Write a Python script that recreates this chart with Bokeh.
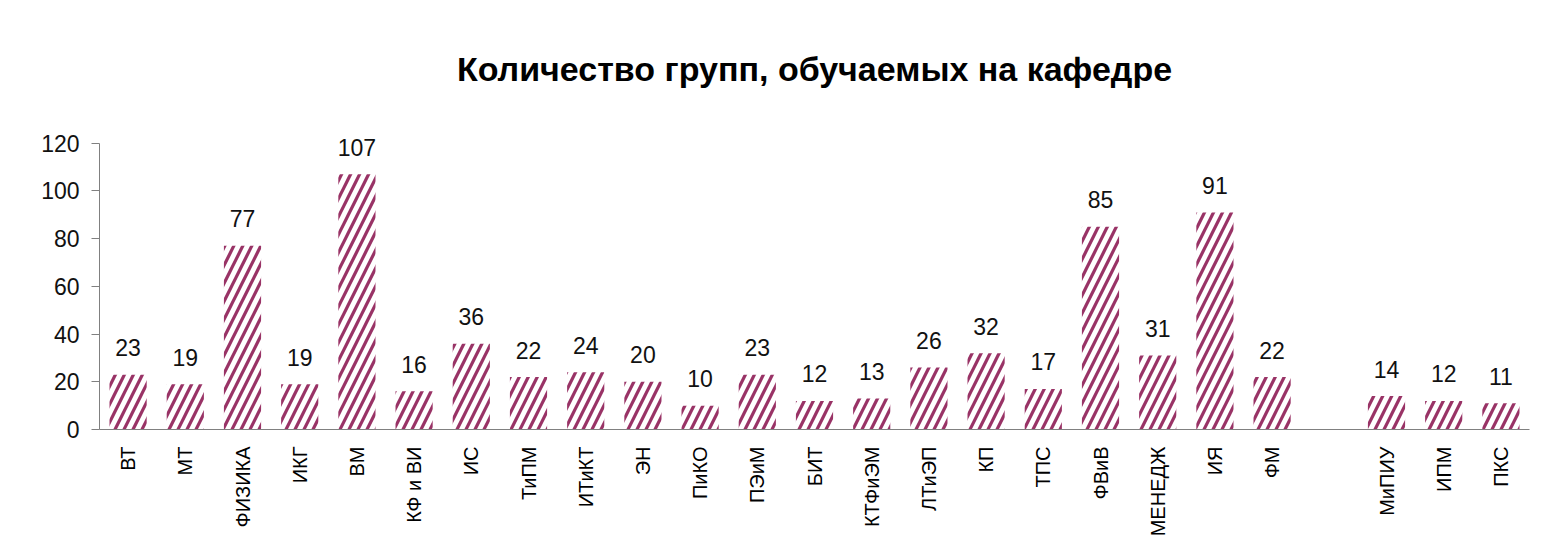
from bokeh.plotting import figure
from bokeh.models import FactorRange, ColumnDataSource, FixedTicker, Title, LabelSet
from bokeh.core.properties import value
from bokeh.embed import file_html
from bokeh.resources import INLINE
import math

categories = ["ВТ", "МТ", "ФИЗИКА", "ИКГ", "ВМ", "КФ и ВИ", "ИС", "ТиПМ", "ИТиКТ", "ЭН",
              "ПиКО", "ПЭиМ", "БИТ", "КТФиЭМ", "ЛТиЭП", "КП", "ТПС", "ФВиВ", "МЕНЕДЖ",
              "ИЯ", "ФМ", "МиПИУ", "ИПМ", "ПКС"]
values = [23, 19, 77, 19, 107, 16, 36, 22, 24, 20, 10, 23, 12, 13, 26, 32, 17, 85, 31,
          91, 22, 14, 12, 11]
gap_after = "ФМ"
y_ticks = [0, 20, 40, 60, 80, 100, 120]
title_text = "Количество групп, обучаемых на кафедре"

BAR_COLOR = "#993366"

i = categories.index(gap_after) + 1
factors = categories[:i] + [" "] + categories[i:]

src = ColumnDataSource(dict(x=categories, y=values, lab=[str(v) for v in values]))

p = figure(width=1536, height=539, x_range=FactorRange(*factors, range_padding=0),
           y_range=(0, 135), output_backend="svg", toolbar_location=None,
           min_border_left=99, min_border_right=7, min_border_top=107, min_border_bottom=101)
p.title = Title(text=title_text, align="center", text_font="Liberation Sans",
                text_font_size="34px", text_font_style="bold", text_color="#000000",
                standoff=40)

p.vbar(x="x", top="y", width=0.65, source=src, fill_color="white", line_color=None,
       hatch_pattern="/", hatch_color=BAR_COLOR, hatch_scale=18, hatch_weight=3.2)

labels = LabelSet(x="x", y="y", text="lab", source=src, text_align="center",
                  text_baseline="middle", y_offset=27, text_font=value("Liberation Sans"),
                  text_font_size="23px", text_color="#111111")
p.add_layout(labels)

p.xgrid.visible = False
p.ygrid.visible = False
p.outline_line_color = None

p.yaxis.ticker = FixedTicker(ticks=y_ticks)
p.yaxis.bounds = (0, 120)
p.yaxis.minor_tick_line_color = None
p.yaxis.major_tick_out = 8
p.yaxis.major_tick_in = 0
p.yaxis.axis_line_color = "#808080"
p.yaxis.major_tick_line_color = "#808080"
p.yaxis.major_label_text_font = "Liberation Sans"
p.yaxis.major_label_text_font_size = "23px"
p.yaxis.major_label_text_color = "#111111"
p.yaxis.major_label_standoff = 12

p.xaxis.major_tick_line_color = None
p.xaxis.axis_line_color = "#808080"
p.xaxis.major_label_orientation = math.pi / 2
p.xaxis.major_label_text_font = "Liberation Sans"
p.xaxis.major_label_text_font_size = "20px"
p.xaxis.major_label_text_color = "#000000"
p.xaxis.major_label_standoff = 11

open("out.html", "w").write(file_html(p, INLINE))
